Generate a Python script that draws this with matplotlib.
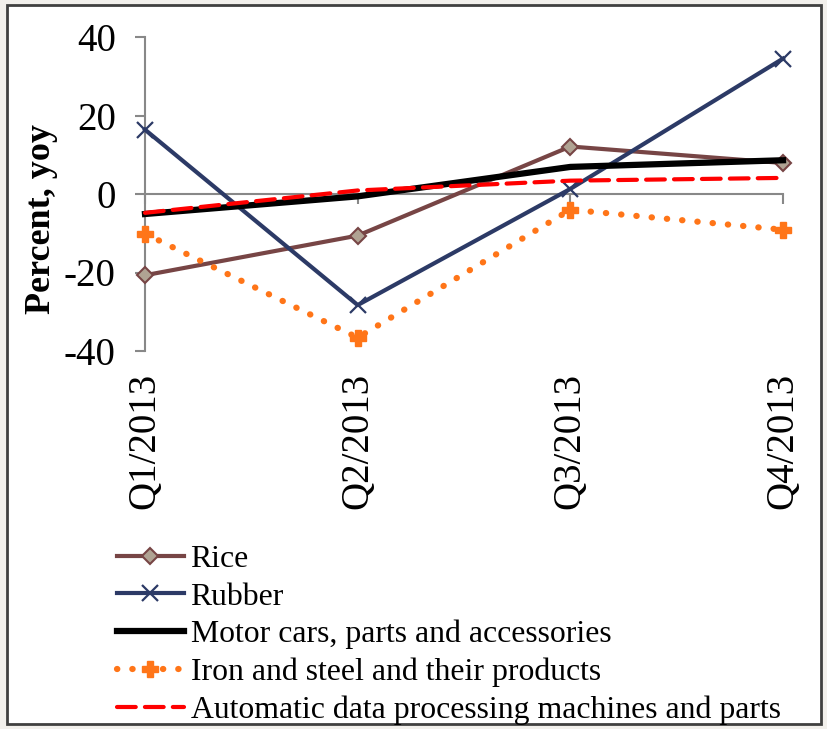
import numpy as np
import matplotlib.pyplot as plt
from matplotlib.patches import Rectangle

plt.rcParams["font.family"] = ["Liberation Serif", "DejaVu Serif"]
plt.rcParams["axes.unicode_minus"] = False

# Data ####################################################################
quarters = ["Q1/2013", "Q2/2013", "Q3/2013", "Q4/2013"]
rice = [-20.7, -10.6, 12.1, 7.9]
rubber = [16.4, -28.3, 1.3, 34.5]
motor = [-5.1, -0.6, 6.9, 8.6]
iron = [-10.1, -36.6, -4.0, -9.1]
adp = [-4.8, 0.9, 3.4, 4.1]

labels = ["Rice", "Rubber", "Motor cars, parts and accessories",
          "Iron and steel and their products",
          "Automatic data processing machines and parts"]

yticks = [-40, -20, 0, 20, 40]

# Figure ##################################################################
fig = plt.figure(figsize=(8.27, 7.29), dpi=100)
fig.patch.set_facecolor("#f2f0ec")
fig.patches.append(Rectangle((7/827, 1-724/729), 814/827, 719/729,
                             transform=fig.transFigure, facecolor="white",
                             edgecolor="#404040", linewidth=2.0, zorder=-5))

ax = fig.add_axes([145/827, 1-351/729, (783-145)/827, (351-37)/729])
ax.set_facecolor("none")
x = np.arange(len(quarters))

ax.plot(x, rice, color="#774545", lw=3, marker="D", ms=8,
        mfc="#b0a393", mec="#774545", mew=1.5, label=labels[0], zorder=3,
        clip_on=False)
ax.plot(x, rubber, color="#2c3a66", lw=3, marker="x", ms=11,
        mew=1.6, label=labels[1], zorder=3, clip_on=False)
ax.plot(x, motor, color="black", lw=4.5, label=labels[2], zorder=4,
        clip_on=False)
ax.plot(x, iron, color="#ff7518", lw=4.5, ls=(0, (0.05, 2.4)),
        dash_capstyle="round", marker="P", ms=11, mec="#ff7518",
        label=labels[3], zorder=3, clip_on=False)
ax.plot(x, adp, color="#ff0000", lw=3, ls=(0, (4.5, 2.2)),
        dash_capstyle="round", label=labels[4], zorder=5, clip_on=False)

# spine position first: it resets the tick objects
for s in ["top", "right"]:
    ax.spines[s].set_visible(False)
ax.spines["bottom"].set_position(("data", 0))
for s in ["left", "bottom"]:
    ax.spines[s].set_color("#888888")
    ax.spines[s].set_linewidth(1.5)

ax.set_xlim(0, 3)
ax.set_ylim(-40, 40)
ax.set_yticks(yticks)
ax.set_xticks(x)
ax.set_xticklabels(quarters, rotation=90, va="top", ha="center")

ax.tick_params(axis="y", direction="out", length=7, width=1.5,
               color="#888888", labelsize=28, pad=14)
ax.tick_params(axis="x", direction="out", length=7, width=1.5,
               color="#888888", labelsize=28, pad=122)

ax.set_ylabel("Percent, yoy", fontsize=26, fontweight="bold")
ax.yaxis.set_label_coords(-0.136, 0.42)

fig.legend(loc="upper left", bbox_to_anchor=(104/827, 1-532/729),
           frameon=False, fontsize=22.9, handlelength=2.1,
           handletextpad=0.22, labelspacing=0.26, borderaxespad=0)

fig.savefig("out.png", dpi=100, facecolor=fig.get_facecolor())
